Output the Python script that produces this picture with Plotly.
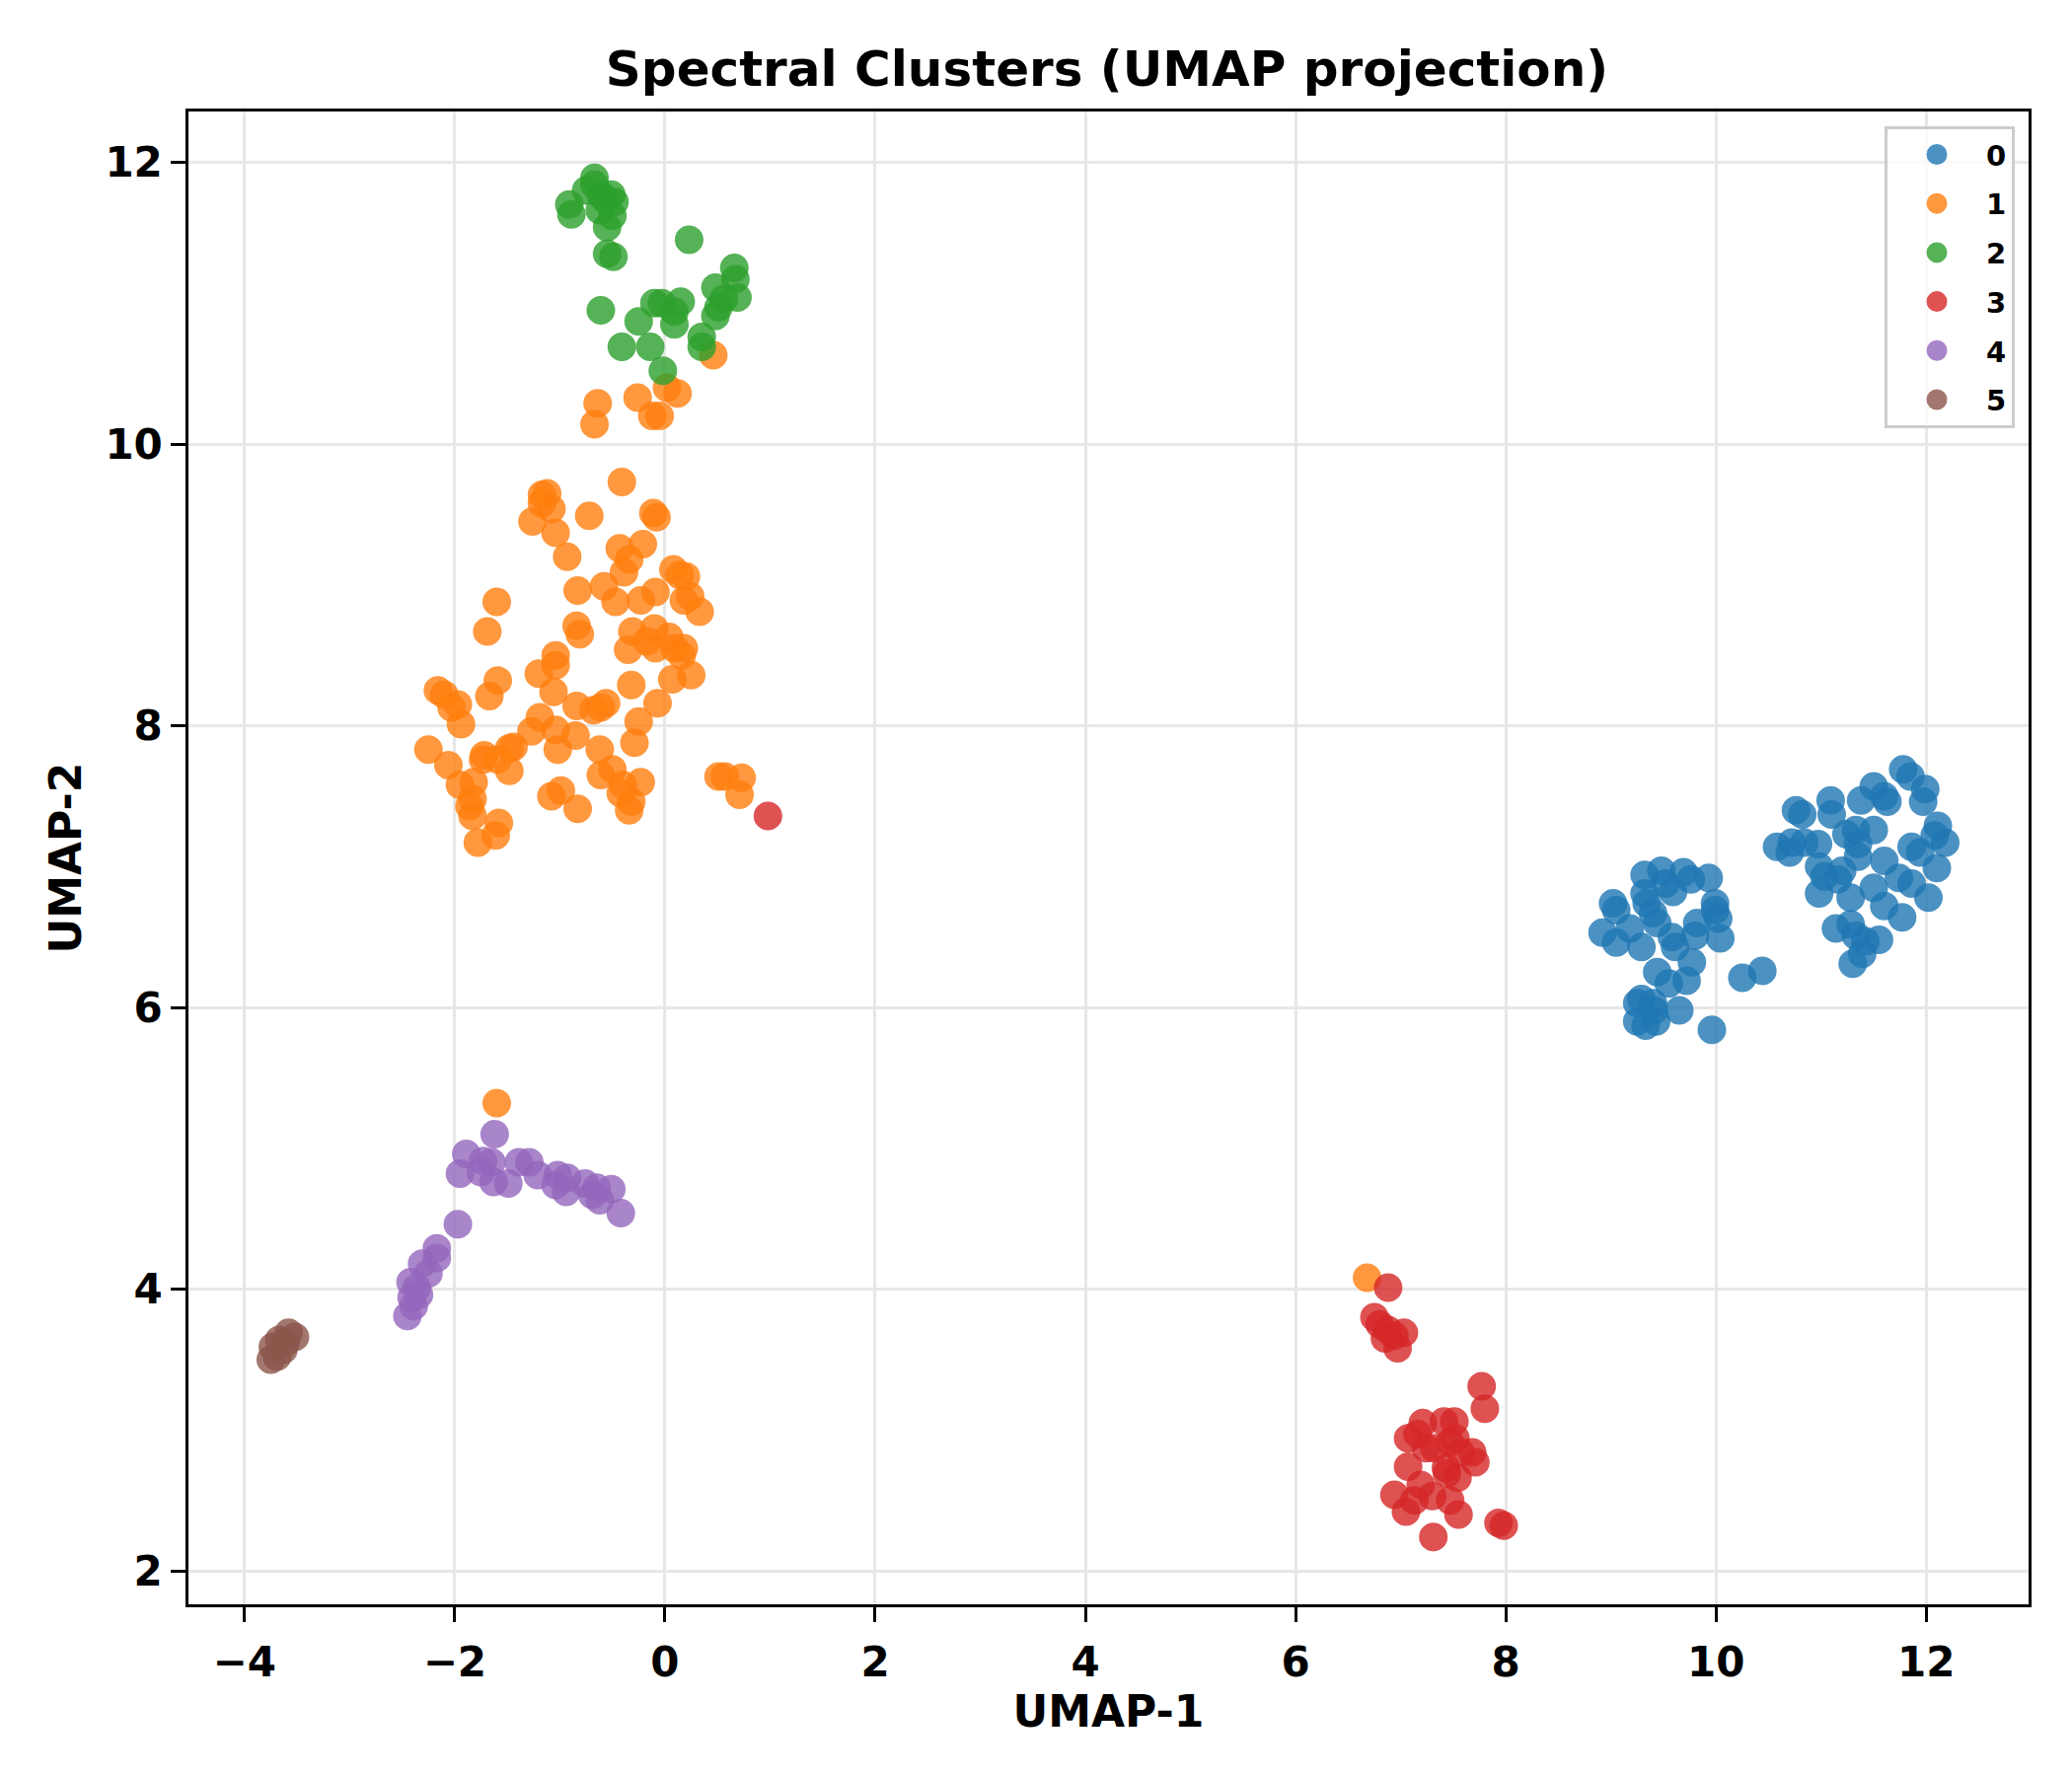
import plotly.graph_objects as go

# ---- data ----
labels = ["0", "1", "2", "3", "4", "5"]

x0 = [9.32, 9.48, 9.52, 9.59, 9.69, 9.76, 9.93, 9.32, 9.02, 9.05, 9.34, 9.40, 9.44, 9.99, 9.99,
      10.02, 9.82, 8.92, 9.18, 9.05, 9.29, 9.58, 9.61, 9.80, 10.04, 9.77, 9.44, 9.55, 9.72, 10.25,
      10.44, 9.29, 9.25, 9.41, 9.65, 9.25, 9.33, 9.43, 9.96, 9.40,
      11.78, 11.85, 11.99, 11.97, 11.50, 11.60, 11.63, 11.38, 11.09, 11.10, 10.76, 10.82, 12.11,
      12.18, 12.08, 11.86, 11.94, 12.10, 11.50, 11.33, 11.24, 10.58, 10.72, 10.84, 10.97, 10.70,
      11.35, 11.35, 11.60, 10.98, 11.03, 11.20, 11.16, 11.74, 11.86, 11.50, 10.98, 11.28, 11.60,
      11.77, 12.02, 11.14, 11.28, 11.33, 11.55, 11.42, 11.39, 11.30]
y0 = [6.94, 6.97, 6.88, 6.82, 6.96, 6.91, 6.92, 6.81, 6.74, 6.69, 6.74, 6.67, 6.60, 6.74, 6.69,
      6.63, 6.60, 6.53, 6.56, 6.46, 6.43, 6.50, 6.43, 6.51, 6.49, 6.32, 6.25, 6.17, 6.19, 6.21,
      6.26, 6.06, 6.03, 5.98, 5.98, 5.90, 5.87, 5.90, 5.84, 6.03,
      7.69, 7.64, 7.55, 7.46, 7.57, 7.50, 7.46, 7.47, 7.47, 7.37, 7.40, 7.37, 7.29,
      7.17, 7.22, 7.14, 7.10, 6.99, 7.26, 7.26, 7.23, 7.14, 7.17, 7.17, 7.16, 7.10,
      7.16, 7.07, 7.04, 7.00, 6.93, 6.97, 6.91, 6.92, 6.88, 6.85, 6.81, 6.78, 6.72,
      6.64, 6.78, 6.56, 6.59, 6.51, 6.48, 6.47, 6.38, 6.31]

x1 = [0.46, -0.64, -0.67, -0.26, 0.02, 0.12, -0.12, -0.05,
      -0.41, -1.17, -1.12, -1.08, -1.26, -1.17, -1.04, -0.72, -0.93, -0.11, -0.08, -0.43,
      -0.21, -0.34, -0.39, 0.08, 0.20, 0.14, -0.83, -0.58, -0.47, -0.23, -0.09, 0.18,
      0.24, 0.33, -1.60, -1.69, -0.84, -0.81, -0.31, -0.10, 0.04, -0.35, -0.17, -0.09,
      0.09, 0.18, 0.16, -1.04, -1.04, -1.20, 0.07, 0.25, -0.32, -1.06, -1.59, -1.67,
      -2.16, -2.10, -1.97, -2.03, -1.94, -0.84, -0.68, -0.56, -0.61, -0.07, -0.25, -0.29,
      -1.19, -1.27, -1.04, -0.85, -1.02, -1.44, -1.48, -1.72, -1.59, -1.48, -2.25, -2.06,
      -0.62, -0.61, -0.50, -1.95, -1.82, -1.83, -1.86, -1.83, -1.78, -1.61, -1.58, -0.40,
      -0.23, -0.32, -0.34, -0.99, -1.08, -0.83, 0.51, 0.57, 0.73, 0.71, -1.73, -0.42,
      -1.60, 6.68]
y1 = [10.63, 10.29, 10.14, 10.33, 10.40, 10.36, 10.20, 10.20,
      9.73, 9.64, 9.65, 9.54, 9.45, 9.58, 9.37, 9.49, 9.20, 9.51, 9.48, 9.26,
      9.29, 9.18, 9.09, 9.11, 9.06, 9.07, 8.96, 8.99, 8.88, 8.89, 8.95, 8.89,
      8.92, 8.81, 8.88, 8.67, 8.71, 8.65, 8.67, 8.69, 8.63, 8.54, 8.60, 8.55,
      8.55, 8.55, 8.50, 8.50, 8.43, 8.37, 8.33, 8.36, 8.29, 8.24, 8.32, 8.21,
      8.25, 8.22, 8.15, 8.13, 8.01, 8.14, 8.11, 8.16, 8.13, 8.16, 8.03, 7.88,
      8.06, 7.96, 7.97, 7.93, 7.83, 7.85, 7.84, 7.79, 7.76, 7.68, 7.83, 7.72,
      7.83, 7.65, 7.69, 7.58, 7.60, 7.48, 7.43, 7.36, 7.17, 7.22, 7.31, 7.58,
      7.60, 7.46, 7.40, 7.54, 7.50, 7.41, 7.64, 7.64, 7.63, 7.51, 7.76, 7.52,
      5.32, 4.08]

x2 = [-0.67, -0.75, -0.91, -0.89, -0.61, -0.51, -0.48, -0.62, -0.50, -0.55, -0.55, -0.49,
      0.23, 0.66, 0.67, 0.48, 0.69, 0.56, 0.51, 0.48, -0.61, -0.10, -0.03, 0.15, 0.09,
      0.09, -0.25, -0.41, -0.14, 0.35, 0.35, -0.02, -0.67, -0.56]
y2 = [11.89, 11.80, 11.70, 11.63, 11.77, 11.77, 11.72, 11.66, 11.62, 11.54, 11.35, 11.33,
      11.45, 11.25, 11.17, 11.11, 11.04, 11.03, 10.97, 10.91, 10.95, 11.00, 11.00, 11.01, 10.94,
      10.85, 10.87, 10.69, 10.69, 10.76, 10.69, 10.52, 11.84, 11.73]

x3 = [0.98, 6.88, 6.75, 6.80, 6.88, 7.03, 6.85, 6.97, 6.94, 7.77, 7.80, 7.21, 7.41, 7.51,
      7.07, 7.16, 7.24, 7.47, 7.52, 7.68, 7.71, 7.07, 7.19, 7.43, 7.44, 7.54, 6.94, 7.05,
      7.13, 7.30, 7.47, 7.55, 7.31, 7.93, 7.98, 7.32, 7.57]
y3 = [7.36, 4.01, 3.80, 3.75, 3.71, 3.69, 3.65, 3.58, 3.67, 3.31, 3.15, 3.05, 3.06, 3.06,
      2.94, 2.97, 2.87, 2.91, 2.94, 2.84, 2.77, 2.74, 2.61, 2.73, 2.69, 2.66, 2.54, 2.42,
      2.50, 2.53, 2.50, 2.40, 2.24, 2.34, 2.32, 2.87, 2.84]

x4 = [-1.62, -1.89, -1.95, -1.73, -1.65, -1.75, -1.63, -1.49, -1.39, -1.29, -1.21, -1.02,
      -0.93, -1.04, -0.94, -0.76, -0.65, -0.51, -0.69, -0.62, -0.42, -1.97, -2.17, -2.17,
      -2.31, -2.25, -2.42, -2.36, -2.41, -2.39, -2.45, -2.34]
y4 = [5.10, 4.96, 4.82, 4.91, 4.90, 4.83, 4.76, 4.75, 4.90, 4.90, 4.81, 4.81,
      4.79, 4.74, 4.69, 4.75, 4.72, 4.71, 4.67, 4.63, 4.54, 4.46, 4.29, 4.22,
      4.18, 4.11, 4.05, 4.01, 3.94, 3.88, 3.81, 3.96]

x5 = [-3.58, -3.52, -3.67, -3.73, -3.63, -3.75, -3.69, -3.61]
y5 = [3.69, 3.66, 3.64, 3.59, 3.57, 3.50, 3.52, 3.62]

xs_all = [x0, x1, x2, x3, x4, x5]
ys_all = [y0, y1, y2, y3, y4, y5]
colors = ["#1f77b4", "#ff7f0e", "#2ca02c", "#d62728", "#9467bd", "#8c564b"]

x_ticks = [-4, -2, 0, 2, 4, 6, 8, 10, 12]
y_ticks = [2, 4, 6, 8, 10, 12]

FONT = "DejaVu Sans"

# page body has an 8px default margin; figure size compensates so the page is 2100x1800
W, H = 2084, 1784

fig = go.Figure()
for lab, xs, ys, c in zip(labels, xs_all, ys_all, colors):
    fig.add_trace(go.Scatter(
        x=xs, y=ys, mode="markers", name=lab, legendgroup=lab,
        # fill + same-colour outline: 24 + 5 = 29 px disc (outline also enlarges legend symbol)
        marker=dict(size=24, color=c, opacity=0.8, line=dict(width=5, color=c)),
    ))

axis_common = dict(
    showgrid=True, gridcolor="#e7e7e7", gridwidth=3.3,
    zeroline=False, showline=True, linecolor="black", linewidth=3.3, mirror=True,
    ticks="outside", ticklen=14.6, tickwidth=3.3, tickcolor="black",
    tickfont=dict(family=FONT, size=42, color="black", weight="bold"),
)

fig.update_layout(
    width=W, height=H,
    margin=dict(l=183, r=36, t=105, b=166, pad=0),
    paper_bgcolor="white", plot_bgcolor="white",
    font=dict(family=FONT, color="black"),
    title=dict(text="<b>Spectral Clusters (UMAP projection)</b>",
               font=dict(family=FONT, size=50, color="black"),
               x=1114 / W, xanchor="center", xref="container",
               y=1 - 61 / H, yanchor="middle", yref="container"),
    xaxis=dict(range=[-4.533, 12.973], tickvals=x_ticks, ticklabelstandoff=5,
               title=dict(text="<b>UMAP-1</b>", font=dict(family=FONT, size=44, color="black"),
                          standoff=10),
               **axis_common),
    yaxis=dict(range=[1.762, 12.361], tickvals=y_ticks,
               title=dict(text="<b>UMAP-2</b>", font=dict(family=FONT, size=44, color="black"),
                          standoff=10),
               **axis_common),
    legend=dict(x=0.9925, y=0.990, xanchor="right", yanchor="top",
                bgcolor="rgba(255,255,255,0.8)", bordercolor="#cccccc", borderwidth=3,
                font=dict(family=FONT, size=29, color="black", weight="bold"),
                tracegroupgap=9, itemsizing="trace", itemwidth=90),
    showlegend=True,
)

fig.write_html("out.html")
